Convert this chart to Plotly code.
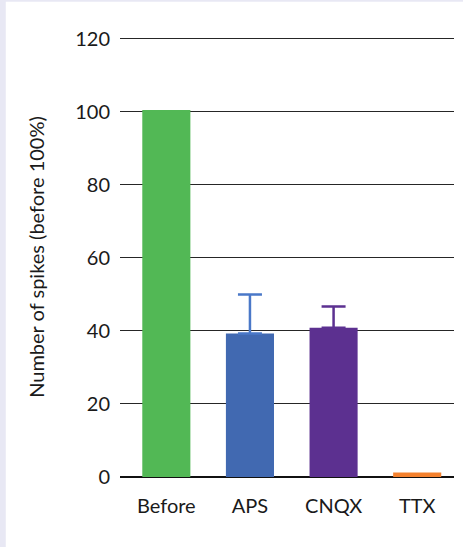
import plotly.graph_objects as go

# Spike counts normalised to the pre-drug baseline (%)
conditions = ["Before", "APS", "CNQX", "TTX"]
spikes_pct = [100.5, 39.3, 40.9, 1.2]
error_plus = [0, 10.7, 5.8, 0]
bar_colors = ["#52b855", "#4169b1", "#5c3090", "#f4812e"]
error_colors = ["#52b855", "#4a78c8", "#5c3191", "#f4812e"]
y_ticks = [0, 20, 40, 60, 80, 100, 120]

fig = go.Figure()
for i, name in enumerate(conditions):
    has_err = error_plus[i] > 0
    fig.add_trace(go.Bar(
        x=[name],
        y=[spikes_pct[i]],
        width=0.575,
        marker=dict(color=bar_colors[i], line=dict(width=0)),
        error_y=dict(
            type="data",
            symmetric=False,
            array=[error_plus[i]],
            arrayminus=[0],
            visible=has_err,
            color=error_colors[i],
            thickness=2.5,
            width=12,
        ),
        showlegend=False,
        hoverinfo="skip",
    ))

# white card on a lavender page (paper coords of the 463x547 canvas)
fig.add_shape(
    type="rect", xref="paper", yref="paper",
    x0=-0.342, x1=1.1, y0=-0.2, y1=1.08,
    fillcolor="white", line=dict(width=0), layer="below",
)

fig.update_layout(
    width=463, height=547,
    margin=dict(l=120, r=9, t=37, b=70),
    paper_bgcolor="#e8e8f4",
    plot_bgcolor="rgba(0,0,0,0)",
    font=dict(family="Lato", size=20, color="#1a1a1a"),
    bargap=0.4,
    xaxis=dict(
        range=[-0.554, 3.44],
        showgrid=False,
        showline=False,
        zeroline=False,
        ticks="",
        ticklabelstandoff=15,
        tickfont=dict(size=20),
    ),
    yaxis=dict(
        range=[0, 120.5],
        tickvals=y_ticks,
        showgrid=True,
        gridcolor="#262626",
        gridwidth=1.3,
        zeroline=True,
        zerolinecolor="#111111",
        zerolinewidth=1.6,
        showline=False,
        ticks="",
        ticklabelstandoff=9,
        tickfont=dict(size=20),
        title=dict(text="Number of spikes (before 100%)", standoff=25,
                   font=dict(size=20)),
    ),
)

fig.write_html("out.html")
